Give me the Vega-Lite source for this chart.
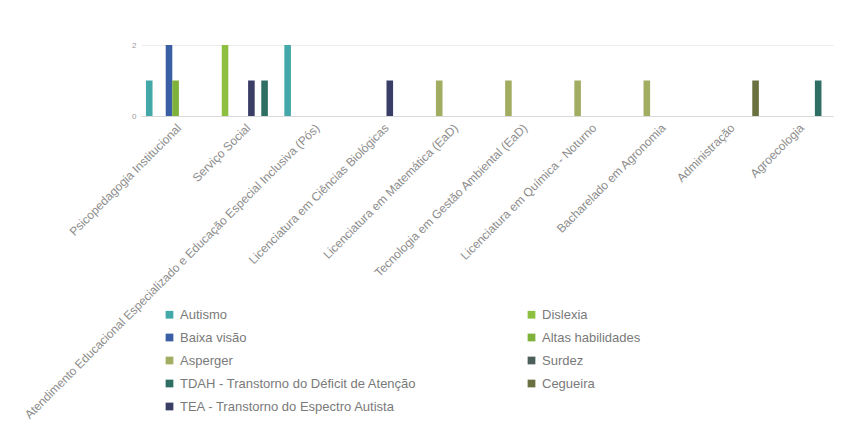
{
  "$schema": "https://vega.github.io/schema/vega-lite/v6.json",
  "width": 692,
  "height": 71,
  "autosize": {"type": "none"},
  "padding": {"left": 141, "top": 45, "right": 11, "bottom": 305},
  "background": "white",
  "config": {"view": {"stroke": null}, "font": "Liberation Sans"},
  "data": {
    "values": [
      {"curso": "Psicopedagogia Institucional", "serie": "Autismo", "valor": 1},
      {"curso": "Psicopedagogia Institucional", "serie": "Baixa visão", "valor": 2},
      {"curso": "Psicopedagogia Institucional", "serie": "Altas habilidades", "valor": 1},
      {"curso": "Serviço Social", "serie": "Dislexia", "valor": 2},
      {"curso": "Serviço Social", "serie": "TEA - Transtorno do Espectro Autista", "valor": 1},
      {"curso": "Serviço Social", "serie": "TDAH - Transtorno do Déficit de Atenção", "valor": 1},
      {"curso": "Atendimento Educacional Especializado e Educação Especial Inclusiva (Pós)", "serie": "Autismo", "valor": 2},
      {"curso": "Licenciatura em Ciências Biológicas", "serie": "TEA - Transtorno do Espectro Autista", "valor": 1},
      {"curso": "Licenciatura em Matemática (EaD)", "serie": "Asperger", "valor": 1},
      {"curso": "Tecnologia em Gestão Ambiental (EaD)", "serie": "Asperger", "valor": 1},
      {"curso": "Licenciatura em Química - Noturno", "serie": "Asperger", "valor": 1},
      {"curso": "Bacharelado em Agronomia", "serie": "Asperger", "valor": 1},
      {"curso": "Administração", "serie": "Cegueira", "valor": 1},
      {"curso": "Agroecologia", "serie": "TDAH - Transtorno do Déficit de Atenção", "valor": 1}
    ]
  },
  "mark": {"type": "bar"},
  "encoding": {
    "x": {
      "field": "curso",
      "type": "nominal",
      "sort": null,
      "scale": {"paddingInner": 0, "paddingOuter": 0},
      "axis": {"title": null, "labelAngle": -45, "labelFontSize": 12, "labelColor": "#8c8c8c", "labelLimit": 700, "ticks": false, "domain": true, "domainColor": "#d9d9d9", "labelPadding": 6}
    },
    "xOffset": {
      "field": "serie",
      "scale": {
        "domain": ["Autismo", "Dislexia", "Asperger", "Baixa visão", "Altas habilidades", "TEA - Transtorno do Espectro Autista", "Surdez", "TDAH - Transtorno do Déficit de Atenção", "Cegueira"],
        "paddingInner": 0,
        "paddingOuter": 0.75
      }
    },
    "y": {
      "field": "valor",
      "type": "quantitative",
      "scale": {"domain": [0, 2]},
      "axis": {"title": null, "values": [0, 1, 2], "format": "d", "labelFontSize": 8, "labelColor": "#999999", "domain": false, "ticks": false, "gridColor": "#ececec", "labelPadding": 5}
    },
    "color": {
      "field": "serie",
      "type": "nominal",
      "scale": {
        "domain": ["Autismo", "Baixa visão", "Asperger", "TDAH - Transtorno do Déficit de Atenção", "TEA - Transtorno do Espectro Autista", "Dislexia", "Altas habilidades", "Surdez", "Cegueira"],
        "range": ["#45a8a8", "#3a5fa5", "#a3ad62", "#2f6e62", "#3a3d66", "#8dc040", "#7fb23a", "#4d5f5a", "#6a7040"]
      },
      "legend": {
        "title": null,
        "orient": "none",
        "legendX": 22,
        "legendY": 263,
        "columns": 2,
        "symbolType": "square",
        "symbolSize": 60,
        "symbolStrokeWidth": 0,
        "labelFontSize": 13,
        "labelColor": "#7a7a7a",
        "labelLimit": 400,
        "rowPadding": 9,
        "columnPadding": 108
      }
    }
  }
}
